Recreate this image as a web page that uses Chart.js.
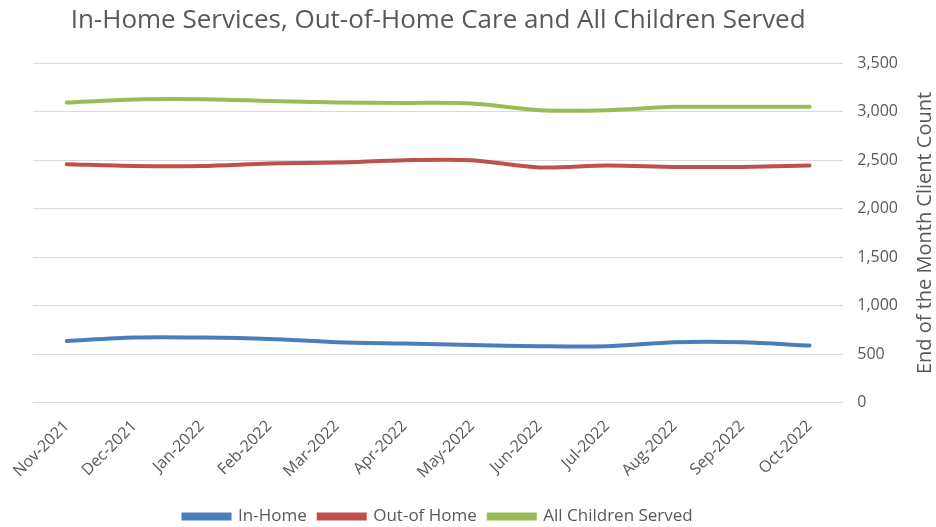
<!DOCTYPE html>
<html>
<head>
<meta charset="utf-8">
<script src="https://cdn.jsdelivr.net/npm/chart.js@4"></script>
<style>
  html, body { margin: 0; padding: 0; background: #fff; }
  #wrap { width: 936px; height: 527px; }
</style>
</head>
<body>
<div id="wrap"><canvas id="chart" width="936" height="527"></canvas></div>
<script>
const months = ["Nov-2021","Dec-2021","Jan-2022","Feb-2022","Mar-2022","Apr-2022",
                "May-2022","Jun-2022","Jul-2022","Aug-2022","Sep-2022","Oct-2022"];
const inHome = [637, 672, 672, 658, 624, 610, 596, 583, 583, 624, 624, 590];
const outOfHome = [2459, 2441, 2441, 2466, 2476, 2500, 2500, 2425, 2445, 2431, 2431, 2445];
const allChildren = [3094, 3126, 3129, 3111, 3095, 3091, 3085, 3016, 3016, 3050, 3050, 3050];

const FONT = "'Open Sans', sans-serif";
const GREY = "#595959";

// right axis title reads bottom-to-top like the excel original
const axisTitle = {
  id: "axisTitle",
  afterLayout(chart) {
    // nudge legend a little lower, closer to the canvas bottom
    chart.legend.top += 8;
    chart.legend.bottom += 8;
  },
  afterDraw(chart) {
    const { ctx, chartArea } = chart;
    ctx.save();
    ctx.translate(925, (chartArea.top + chartArea.bottom) / 2);
    ctx.rotate(-Math.PI / 2);
    ctx.font = "20px " + FONT;
    ctx.fillStyle = GREY;
    ctx.textAlign = "center";
    ctx.textBaseline = "middle";
    ctx.fillText("End of the Month Client Count", 0, 0);
    ctx.restore();
  }
};

const line = (label, data, color) => ({
  label, data,
  borderColor: color, backgroundColor: color,
  borderWidth: 4, pointRadius: 0, tension: 0.3,
  borderCapStyle: "round"
});

new Chart(document.getElementById("chart"), {
  type: "line",
  data: {
    labels: months,
    datasets: [
      line("In-Home", inHome, "#4a7ebb"),
      line("Out-of Home", outOfHome, "#c0504d"),
      line("All Children Served", allChildren, "#9bbb59")
    ]
  },
  options: {
    responsive: false,
    animation: false,
    layout: { padding: { left: 33, right: 24, top: 5, bottom: 0 } },
    plugins: {
      title: {
        display: true,
        fullSize: false,
        text: "In-Home Services, Out-of-Home Care and All Children Served",
        color: GREY,
        font: { family: FONT, size: 26, weight: "normal" },
        padding: { top: 0, bottom: 27 }
      },
      legend: {
        position: "bottom",
        fullSize: false,
        labels: {
          color: GREY, boxWidth: 46, boxHeight: 4, padding: 12,
          font: { family: FONT, size: 17 }
        }
      },
      tooltip: { enabled: false }
    },
    scales: {
      x: {
        offset: true,
        grid: { display: false },
        border: { display: false },
        ticks: {
          color: GREY, minRotation: 45, maxRotation: 45,
          font: { family: FONT, size: 16 }, padding: 6
        }
      },
      y: {
        position: "right",
        min: 0, max: 3500,
        grid: { color: "#d9d9d9", drawTicks: false },
        border: { display: false },
        ticks: {
          stepSize: 500, color: GREY, padding: 14,
          font: { family: FONT, size: 16 },
          callback: v => v.toLocaleString("en-US")
        }
      }
    }
  },
  plugins: [axisTitle]
});
</script>
</body>
</html>
